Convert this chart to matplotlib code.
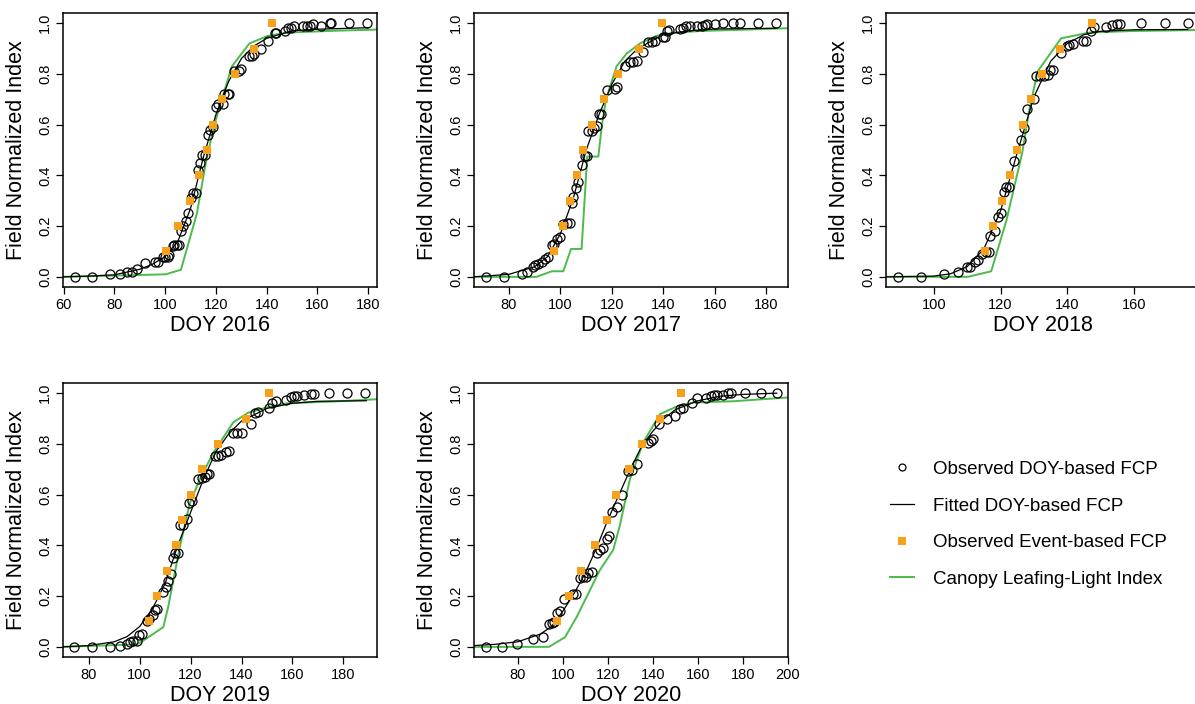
import numpy as np
import matplotlib.pyplot as plt
from matplotlib.lines import Line2D

plt.rcParams['font.family'] = ['Liberation Sans', 'DejaVu Sans']

# ---------------- 2016 ----------------
doy_16 = [64.5, 71.2, 78.2, 82.2, 85.1, 87.0, 89.0, 91.9, 95.9, 97.0, 99.0, 99.9, 101.0, 101.6,
          103.0, 103.6, 104.5, 105.5, 106.2, 107.2, 108.1, 109.0, 110.1, 111.0, 112.1, 112.8,
          113.8, 114.7, 115.6, 116.7, 117.6, 118.7, 120.0, 120.9, 122.6, 123.0, 124.6, 125.3,
          127.3, 129.2, 129.9, 133.2, 134.1, 134.9, 137.8, 140.5, 143.1, 143.8, 147.1, 148.4,
          149.4, 150.8, 154.3, 156.0, 157.0, 158.3, 161.3, 164.9, 165.5, 172.5, 179.6]
fcp_16 = [0.0, 0.0, 0.01, 0.01, 0.02, 0.02, 0.03, 0.054, 0.058, 0.058, 0.078, 0.078, 0.08, 0.085,
          0.12, 0.124, 0.127, 0.127, 0.18, 0.2, 0.22, 0.25, 0.31, 0.33, 0.33, 0.42,
          0.45, 0.48, 0.48, 0.56, 0.58, 0.59, 0.67, 0.68, 0.68, 0.72, 0.72, 0.72,
          0.81, 0.81, 0.82, 0.87, 0.87, 0.88, 0.9, 0.93, 0.96, 0.96, 0.97, 0.98,
          0.98, 0.99, 0.99, 0.99, 0.99, 0.995, 0.99, 1.0, 1.0, 1.0, 1.0]
fit_x_16 = [59.7, 70, 80, 90, 95, 100, 105, 110, 115, 120, 125, 130, 135, 140, 150, 160, 180]
fit_y_16 = [0.0, 0.003, 0.008, 0.03, 0.05, 0.08, 0.14, 0.27, 0.47, 0.64, 0.77, 0.86, 0.91,
            0.94, 0.97, 0.976, 0.982]
evt_x_16 = [100.5, 105.2, 109.6, 113.4, 116.3, 119.0, 122.3, 127.7, 134.9, 142.2]
evt_y_16 = [0.1, 0.2, 0.3, 0.4, 0.5, 0.6, 0.7, 0.8, 0.9, 1.0]
cll_x_16 = [59.7, 100.2, 106.2, 112.5, 116.0, 119.4, 122.3, 126.3, 133.2, 140.5, 148.4, 166.8, 184.4]
cll_y_16 = [0.0, 0.01, 0.028, 0.25, 0.45, 0.6, 0.7, 0.83, 0.92, 0.95, 0.963, 0.97, 0.975]

# ---------------- 2017 ----------------
doy_17 = [71.1, 78.1, 85.0, 86.9, 89.4, 90.1, 91.4, 92.7, 94.0, 95.3, 96.6, 97.5, 98.5, 99.8,
          101.1, 102.4, 103.7, 104.3, 104.9, 106.0, 106.9, 108.2, 109.5, 110.2, 110.8, 112.1,
          113.1, 114.0, 114.9, 115.7, 117.9, 121.2, 122.1, 125.1, 127.0, 128.3, 129.6, 132.2,
          134.1, 135.4, 136.7, 139.9, 140.6, 141.2, 142.3, 146.4, 147.7, 148.7, 150.3, 152.9,
          154.8, 156.1, 156.8, 160.0, 163.2, 167.1, 169.7, 176.8, 183.9]
fcp_17 = [0.0, 0.0, 0.012, 0.018, 0.04, 0.045, 0.05, 0.058, 0.07, 0.078, 0.125, 0.13, 0.15, 0.157,
          0.21, 0.213, 0.213, 0.29, 0.315, 0.35, 0.375, 0.44, 0.475, 0.475, 0.575, 0.575,
          0.587, 0.593, 0.64, 0.64, 0.735, 0.74, 0.75, 0.83, 0.845, 0.847, 0.85, 0.885,
          0.925, 0.925, 0.93, 0.947, 0.947, 0.97, 0.974, 0.976, 0.98, 0.99, 0.99, 0.99,
          0.99, 0.993, 0.997, 0.997, 0.999, 1.0, 1.0, 1.0, 1.0]
fit_x_17 = [66.4, 80, 90, 95, 100, 105, 110, 115, 120, 125, 130, 140, 150, 160, 184]
fit_y_17 = [0.0, 0.01, 0.04, 0.08, 0.17, 0.31, 0.5, 0.64, 0.76, 0.85, 0.9, 0.955, 0.97, 0.977, 0.98]
evt_x_17 = [97.6, 101.1, 103.7, 106.3, 108.9, 112.2, 116.9, 122.5, 130.5, 139.3]
evt_y_17 = [0.1, 0.2, 0.3, 0.4, 0.5, 0.6, 0.7, 0.8, 0.9, 1.0]
cll_x_17 = [66.4, 90.7, 96.6, 101.1, 104.1, 108.2, 110.4, 114.7, 116.0, 117.7, 121.8, 125.7,
            130.9, 137.3, 143.8, 154.2, 167.1, 188.4]
cll_y_17 = [0.0, 0.0, 0.022, 0.022, 0.11, 0.11, 0.474, 0.474, 0.59, 0.7, 0.83, 0.88,
            0.92, 0.95, 0.962, 0.969, 0.973, 0.98]

# ---------------- 2018 ----------------
doy_18 = [89.2, 96.3, 103.1, 107.3, 110.0, 110.9, 112.2, 113.2, 114.5, 115.7, 116.5, 116.9, 118.2,
          119.2, 120.0, 120.9, 121.7, 122.5, 124.0, 126.0, 126.9, 128.0, 130.1, 130.6, 131.8,
          133.1, 134.1, 134.8, 135.8, 138.1, 139.9, 140.6, 141.6, 144.8, 145.6, 147.1, 148.1,
          151.5, 153.5, 155.0, 155.8, 162.0, 169.1, 176.1]
fcp_18 = [0.0, 0.0, 0.01, 0.02, 0.04, 0.04, 0.058, 0.065, 0.09, 0.098, 0.098, 0.16, 0.18,
          0.236, 0.25, 0.335, 0.355, 0.355, 0.455, 0.54, 0.587, 0.66, 0.7, 0.79, 0.79,
          0.79, 0.795, 0.815, 0.815, 0.884, 0.91, 0.913, 0.917, 0.93, 0.93, 0.97, 0.983,
          0.983, 0.992, 0.996, 0.997, 1.0, 1.0, 1.0]
fit_x_18 = [85.7, 100, 105, 110, 115, 120, 125, 130, 135, 140, 145, 150, 160, 176]
fit_y_18 = [0.0, 0.003, 0.012, 0.04, 0.11, 0.26, 0.49, 0.71, 0.85, 0.92, 0.955, 0.968, 0.974, 0.975]
evt_x_18 = [115.2, 117.7, 120.5, 122.8, 124.8, 126.7, 129.2, 132.3, 137.7, 147.3]
evt_y_18 = [0.1, 0.2, 0.3, 0.4, 0.5, 0.6, 0.7, 0.8, 0.9, 1.0]
cll_x_18 = [85.7, 110.2, 117.2, 121.7, 126.5, 128.7, 131.1, 138.1, 146.6, 159.5, 179.7]
cll_y_18 = [0.0, 0.0, 0.022, 0.22, 0.49, 0.666, 0.81, 0.94, 0.963, 0.969, 0.973]

# ---------------- 2019 ----------------
doy_19 = [74.3, 81.2, 88.2, 92.1, 95.0, 96.2, 97.5, 98.9, 99.9, 100.8, 102.8, 103.8, 105.1, 106.0,
          106.9, 109.3, 110.3, 111.2, 112.2, 112.9, 113.9, 115.2, 115.8, 116.9, 118.4, 119.5,
          120.4, 123.0, 124.3, 125.6, 126.5, 127.3, 129.5, 130.8, 132.1, 134.1, 135.1, 136.7,
          138.2, 140.3, 143.9, 145.2, 146.5, 150.8, 152.1, 153.4, 157.6, 159.5, 160.8, 161.9,
          164.7, 167.4, 168.3, 174.5, 181.4, 188.4]
fcp_19 = [0.0, 0.0, 0.0, 0.004, 0.012, 0.018, 0.022, 0.025, 0.045, 0.05, 0.1, 0.11, 0.124, 0.147,
          0.15, 0.216, 0.236, 0.26, 0.287, 0.35, 0.37, 0.37, 0.48, 0.48, 0.503, 0.566,
          0.573, 0.66, 0.666, 0.67, 0.68, 0.683, 0.753, 0.753, 0.757, 0.768, 0.772, 0.842,
          0.842, 0.842, 0.88, 0.923, 0.926, 0.94, 0.963, 0.97, 0.972, 0.983, 0.99, 0.99,
          0.992, 0.997, 0.997, 1.0, 1.0, 1.0]
fit_x_19 = [69.9, 80, 90, 95, 100, 105, 110, 115, 120, 125, 130, 135, 140, 150, 160, 170, 189]
fit_y_19 = [0.0, 0.005, 0.02, 0.04, 0.08, 0.15, 0.25, 0.4, 0.53, 0.66, 0.77, 0.84, 0.89,
            0.94, 0.96, 0.968, 0.97]
evt_x_19 = [103.8, 106.9, 110.6, 114.1, 116.8, 120.1, 124.5, 130.8, 141.6, 150.8]
evt_y_19 = [0.1, 0.2, 0.3, 0.4, 0.5, 0.6, 0.7, 0.8, 0.9, 1.0]
cll_x_19 = [69.9, 98.9, 101.5, 109.3, 111.2, 115.8, 119.7, 123.6, 128.9, 136.7, 142.6, 149.8,
            157.6, 175.9, 193.2]
cll_y_19 = [0.0, 0.01, 0.025, 0.078, 0.157, 0.395, 0.566, 0.66, 0.765, 0.884, 0.923, 0.943,
            0.96, 0.967, 0.976]

# ---------------- 2020 ----------------
doy_20 = [66.0, 72.9, 79.9, 86.9, 91.1, 93.9, 95.1, 96.1, 97.6, 98.8, 100.7, 104.7, 105.9, 107.6,
          109.1, 110.3, 111.3, 112.8, 115.0, 116.5, 117.9, 119.5, 120.7, 121.7, 123.9, 126.1,
          128.8, 130.9, 133.1, 138.0, 139.0, 140.2, 142.8, 146.5, 149.8, 152.0, 153.2, 157.2,
          159.4, 163.4, 166.0, 167.1, 168.3, 171.2, 173.4, 174.6, 180.8, 188.2, 194.9]
fcp_20 = [0.0, 0.0, 0.01, 0.032, 0.038, 0.091, 0.094, 0.098, 0.133, 0.141, 0.19, 0.207, 0.207, 0.273,
          0.276, 0.276, 0.293, 0.296, 0.371, 0.382, 0.388, 0.424, 0.435, 0.53, 0.55, 0.6,
          0.692, 0.696, 0.719, 0.805, 0.811, 0.818, 0.877, 0.897, 0.91, 0.937, 0.943, 0.963,
          0.979, 0.979, 0.99, 0.992, 0.992, 0.992, 0.999, 1.0, 1.0, 1.0, 1.0]
fit_x_20 = [60.6, 70, 80, 90, 95, 100, 105, 110, 115, 120, 125, 130, 135, 140, 145, 150, 160,
            170, 180, 195]
fit_y_20 = [0.005, 0.01, 0.02, 0.05, 0.08, 0.14, 0.21, 0.29, 0.39, 0.5, 0.6, 0.7, 0.79, 0.85,
            0.9, 0.935, 0.97, 0.988, 0.995, 1.0]
evt_x_20 = [97.3, 102.6, 108.1, 114.1, 119.8, 123.6, 129.2, 135.0, 143.1, 152.4]
evt_y_20 = [0.1, 0.2, 0.3, 0.4, 0.5, 0.6, 0.7, 0.8, 0.9, 1.0]
cll_x_20 = [60.6, 93.9, 101.0, 106.2, 110.6, 116.5, 122.4, 125.4, 129.8, 135.7, 143.1, 150.5,
            157.9, 175.6, 200.0]
cll_y_20 = [0.0, 0.0, 0.038, 0.118, 0.197, 0.303, 0.382, 0.48, 0.66, 0.805, 0.917, 0.947,
            0.963, 0.968, 0.983]

years = ['2016', '2017', '2018', '2019', '2020']
obs = [(doy_16, fcp_16), (doy_17, fcp_17), (doy_18, fcp_18), (doy_19, fcp_19), (doy_20, fcp_20)]
fits = [(fit_x_16, fit_y_16), (fit_x_17, fit_y_17), (fit_x_18, fit_y_18),
        (fit_x_19, fit_y_19), (fit_x_20, fit_y_20)]
events = [(evt_x_16, evt_y_16), (evt_x_17, evt_y_17), (evt_x_18, evt_y_18),
          (evt_x_19, evt_y_19), (evt_x_20, evt_y_20)]
clli = [(cll_x_16, cll_y_16), (cll_x_17, cll_y_17), (cll_x_18, cll_y_18),
        (cll_x_19, cll_y_19), (cll_x_20, cll_y_20)]
xlims = [(59.7, 183.5), (66.4, 188.4), (85.7, 179.7), (69.9, 193.2), (60.6, 200)]
xticks = [np.arange(60, 181, 20), np.arange(80, 181, 20), np.arange(100, 161, 20),
          np.arange(80, 181, 20), np.arange(80, 201, 20)]

orange = '#f7a11a'
green = '#4bbb4b'

W, H = 1195, 704
fig = plt.figure(figsize=(W / 100, H / 100), dpi=100)

# axes boxes in pixels: left, top
boxes = [(63, 13), (474, 13), (886, 13), (63, 383), (474, 383)]
bw, bh = 314, 274

for i, yr in enumerate(years):
    l, t = boxes[i]
    ax = fig.add_axes([l / W, 1 - (t + bh) / H, bw / W, bh / H])
    ax.plot(clli[i][0], clli[i][1], color=green, lw=1.4, zorder=2)
    ax.plot(fits[i][0], fits[i][1], color='black', lw=0.9, zorder=3)
    ax.plot(obs[i][0], obs[i][1], 'o', mfc='none', mec='black', ms=6.5, mew=0.9, zorder=4)
    ax.plot(events[i][0], events[i][1], 's', color=orange, ms=5.8, mew=0, zorder=5)
    ax.set_xlim(*xlims[i])
    ax.set_ylim(-0.04, 1.04)
    ax.set_xticks(xticks[i])
    ax.set_yticks(np.arange(0, 1.01, 0.2))
    ax.set_yticklabels([f'{v:.1f}' for v in np.arange(0, 1.01, 0.2)], rotation=90, va='center')
    ax.tick_params(length=5, width=0.9, labelsize=10.5, pad=3, color='black')
    for s in ax.spines.values():
        s.set_linewidth(1.1)
    ax.set_xlabel('DOY ' + yr, fontsize=15.5, labelpad=2)
    ax.set_ylabel('Field Normalized Index', fontsize=15.5, labelpad=8)

handles = [
    Line2D([], [], ls='none', marker='o', mfc='none', mec='black', ms=5, mew=0.9),
    Line2D([], [], color='black', lw=0.9),
    Line2D([], [], ls='none', marker='s', color=orange, ms=5.5, mew=0),
    Line2D([], [], color=green, lw=1.4),
]
labels = ['Observed DOY-based FCP', 'Fitted DOY-based FCP',
          'Observed Event-based FCP', 'Canopy Leafing-Light Index']
fig.legend(handles, labels, loc='upper left', bbox_to_anchor=(873 / W, 1 - 444 / H),
           frameon=False, fontsize=13.5, handlelength=1.3, handletextpad=1.0,
           labelspacing=1.04)

fig.savefig('out.png', dpi=100)
